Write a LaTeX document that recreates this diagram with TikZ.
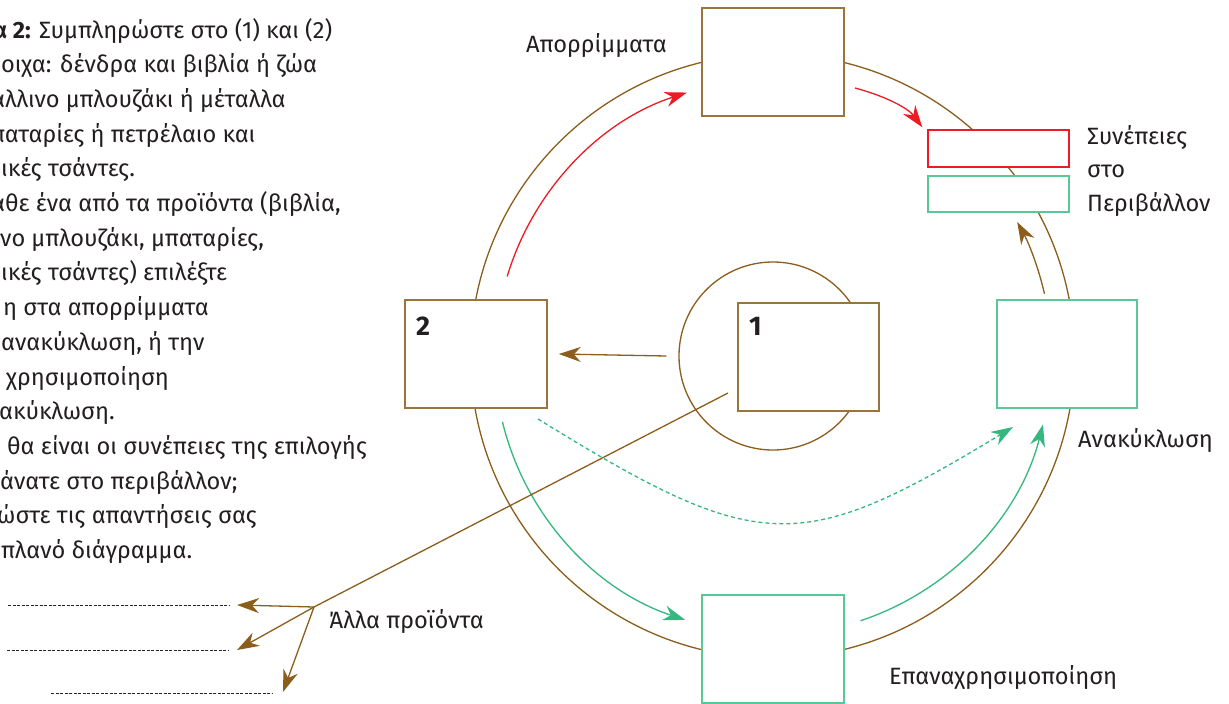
\documentclass[tikz,border=0pt]{standalone}
\usepackage{fontspec}
\setmainfont{Fira Sans}
\usetikzlibrary{arrows.meta}
\definecolor{brn}{RGB}{139,94,28}
\definecolor{brnbox}{RGB}{155,115,60}
\definecolor{redc}{RGB}{237,28,36}
\definecolor{grn}{RGB}{52,184,128}
\definecolor{grnbox}{RGB}{90,200,150}
\definecolor{txtc}{RGB}{35,31,32}
\begin{document}
\begin{tikzpicture}[x=1pt,y=-1pt,
  txt/.style={inner sep=0pt, text=txtc, font=\fontsize{23.6}{33.5}\selectfont},
  lft/.style={txt, anchor=base west},
  num/.style={inner sep=0pt, text=txtc, anchor=base west, font=\fontsize{27}{30}\selectfont\bfseries},
  boxbrn/.style={draw=brnbox, line width=1.6pt, fill=white, inner sep=0pt, minimum width=#1},
  boxbrn/.default=142pt,
  boxgrn/.style={draw=grnbox, line width=1.6pt, fill=white, inner sep=0pt, minimum width=141pt},
  tip/.style={-{Stealth[length=22pt,width=15pt,inset=7pt]}},
  brnline/.style={draw=brn, line width=1.3pt},
  brnarr/.style={brnline, tip},
  redarr/.style={draw=redc, line width=1.3pt, tip},
  grnarr/.style={draw=grn, line width=1.3pt, tip},
  ansline/.style={draw=black!85, line width=0.9pt, dash pattern=on 3pt off 1.5pt}
]
\useasboundingbox (0,0) rectangle (1229,704);
\fill[white] (0,0) rectangle (1229,704);

% left instruction text
\node[lft] (l1) at (-7,38) {\textbf{α 2:} Συμπληρώστε στο (1) και (2)};
\node[lft] (l2) at (1,72.7) {οιχα: δένδρα και βιβλία ή ζώα};
\node[lft] (l3) at (-9,107.4) {άλλινο μπλουζάκι ή μέταλλα};
\node[lft] (l4) at (-9,142.1) {παταρίες ή πετρέλαιο και};
\node[lft] (l5) at (1,176.8) {ικές τσάντες.};
\node[lft] (l6) at (-9,211.5) {άθε ένα από τα προϊόντα (βιβλία,};
\node[lft] (l7) at (0,246.2) {νο μπλουζάκι, μπαταρίες,};
\node[lft] (l8) at (1,280.9) {ικές τσάντες) επιλέξτε};
\node[lft] (l9) at (3,315.6) {η στα απορρίμματα};
\node[lft] (l10) at (1,350.3) {ανακύκλωση, ή την};
\node[lft] (l11) at (6,385) {χρησιμοποίηση};
\node[lft] (l12) at (-1,419.7) {ακύκλωση.};
\node[lft] (l13) at (7,454.4) {θα είναι οι συνέπειες της επιλογής};
\node[lft] (l14) at (0,489.1) {άνατε στο περιβάλλον;};
\node[lft] (l15) at (-3,523.8) {ώστε τις απαντήσεις σας};
\node[lft] (l16) at (1,558.5) {πλανό διάγραμμα.};

% circles
\coordinate (C) at (772.5,356);
\draw[brnline] (C) circle[radius=302];
\node[draw=brn, line width=1.3pt, circle, minimum size=188pt, inner sep=0pt] (sc) at (773,356) {};

% boxes
\node[boxbrn, minimum height=108pt] (apor) at (773,62) {};
\node[boxbrn, minimum height=108pt] (b2) at (476,354) {};
\node[boxbrn=141pt, minimum height=108pt] (b1) at (808.5,357) {};
\node[draw=redc, line width=1.4pt, fill=white, inner sep=0pt, minimum width=141pt, minimum height=37pt] (rbox) at (998.5,148.5) {};
\node[boxgrn, minimum height=36pt] (gbox) at (998.5,194) {};
\node[boxgrn, minimum height=108pt, minimum width=140pt] (anak) at (1067,354) {};
\node[boxgrn, minimum height=108pt, minimum width=142pt] (epan) at (773,649) {};

% numbers
\node[num] (n2) at (416,335) {2};
\node[num] (n1) at (749,335) {1};

% labels
\node[lft] (lapor) at (526,52) {Απορρίμματα};
\node[lft] (lsyn1) at (1087,144) {Συνέπειες};
\node[lft] (lsyn2) at (1087,177.5) {στο};
\node[lft] (lsyn3) at (1087,211) {Περιβάλλον};
\node[lft] (lanak) at (1078,447) {Ανακύκλωση};
\node[lft] (lepan) at (889,684) {Επαναχρησιμοποίηση};
\node[lft] (lalla) at (329,628) {Άλλα προϊόντα};

% cycle arrows
\coordinate (ra) at ([shift={(-163.3:277)}]C);
\draw[redarr] (ra) arc[start angle=-163.3, end angle=-108, radius=277];
\coordinate (rb1) at (855,88);
\coordinate (rb2) at ([shift={(-5,-2)}]rbox.north west);
\draw[redarr] (rb1) .. controls (885,96) and (908,108) .. (rb2);
\coordinate (ba) at ([shift={(-12.9:279)}]C);
\draw[brnarr] (ba) arc[start angle=-12.9, end angle=-28.7, radius=279];
\coordinate (ga) at ([shift={(166.3:278)}]C);
\draw[grnarr] (ga) arc[start angle=166.3, end angle=108.3, radius=278];
\coordinate (gb) at ([shift={(71.6:279)}]C);
\draw[grnarr] (gb) arc[start angle=71.6, end angle=14.2, radius=279];
\coordinate (gd1) at (538,419);
\coordinate (gd2) at (1013,427);
\draw[grnarr, dash pattern=on 4pt off 3pt] (gd1) .. controls (760,556) and (800,556) .. (gd2);

% from 1 to 2
\draw[brnarr] ([xshift=-12pt]sc.west) -- ([xshift=11pt]b2.east);

% other products
\coordinate (ls) at (728,393);
\coordinate (J) at (314,607);
\draw[brnline] (ls) -- (J);
\coordinate (t1) at (237,605);
\coordinate (t2) at (237,650);
\coordinate (t3) at (283,692);
\draw[brnarr] (J) -- (t1);
\draw[brnarr] (J) -- (t2);
\draw[brnarr] (J) -- (t3);

% answer lines
\coordinate (a1s) at (8,605); \coordinate (a1e) at (230,605);
\coordinate (a2s) at (7,650); \coordinate (a2e) at (228,650);
\coordinate (a3s) at (51,693); \coordinate (a3e) at (273,693);
\draw[ansline] (a1s) -- (a1e);
\draw[ansline] (a2s) -- (a2e);
\draw[ansline] (a3s) -- (a3e);
\end{tikzpicture}
\end{document}
